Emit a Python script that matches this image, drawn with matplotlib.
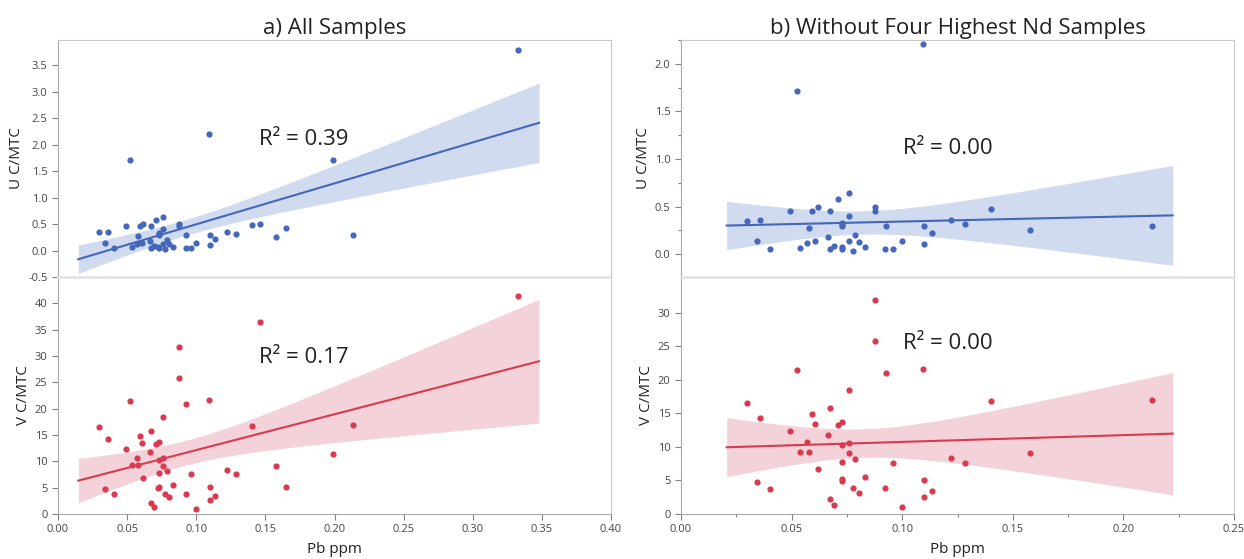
import numpy as np
import matplotlib
matplotlib.use("Agg")
import matplotlib.pyplot as plt
from matplotlib.ticker import MultipleLocator, FormatStrFormatter, FixedLocator

plt.rcParams['font.family'] = ['Open Sans', 'DejaVu Sans']

# muestras sin las cuatro de mayor Nd
pb = [0.0298, 0.0342, 0.0359, 0.0402, 0.0493, 0.0523, 0.0538, 0.0571, 0.0580, 0.0594,
      0.0604, 0.0618, 0.0663, 0.0674, 0.0672, 0.0693, 0.0710, 0.0726, 0.0728, 0.0729,
      0.0730, 0.0730, 0.0758, 0.0758, 0.0761, 0.0776, 0.0788, 0.0803, 0.0830, 0.0876,
      0.0876, 0.0927, 0.0924, 0.0960, 0.0999, 0.1094, 0.1097, 0.1097, 0.1133, 0.1220,
      0.1284, 0.1403, 0.1578, 0.2131]
u_cmtc = [0.346, 0.140, 0.360, 0.052, 0.455, 1.714, 0.066, 0.119, 0.270, 0.458,
          0.140, 0.496, 0.182, 0.458, 0.052, 0.084, 0.577, 0.073, 0.052, 0.294,
          0.330, 0.310, 0.643, 0.406, 0.133, 0.028, 0.203, 0.129, 0.070, 0.496,
          0.458, 0.294, 0.049, 0.056, 0.140, 2.207, 0.294, 0.105, 0.224, 0.357,
          0.315, 0.475, 0.252, 0.294]
v_cmtc = [16.47, 4.81, 14.24, 3.77, 12.30, 21.43, 9.23, 10.71, 9.28, 14.88,
          13.44, 6.75, 11.80, 15.72, 2.18, 1.29, 13.24, 4.86, 5.16, 10.27,
          13.69, 7.69, 18.45, 10.61, 9.08, 3.82, 8.23, 3.17, 5.50, 31.80,
          25.80, 20.98, 3.87, 7.54, 1.04, 21.63, 5.10, 2.58, 3.47, 8.28,
          7.54, 16.77, 9.08, 16.92]

# las cuatro muestras con Nd mas alto
pb_nd = [0.146, 0.165, 0.199, 0.3328]
u_nd = [0.50, 0.42, 1.717, 3.80]
v_nd = [36.46, 5.07, 11.35, 41.4]

pb_todas = pb + pb_nd
u_todas = u_cmtc + u_nd
v_todas = v_cmtc + v_nd

AZUL = "#4466bb"
AZUL_BANDA = "#d0dbef"
ROJO = "#d93a50"
ROJO_BANDA = "#f3d3d9"
GRIS_TXT = "#454545"


def ajuste(ax, x, y, color, banda):
    x = np.array(x)
    y = np.array(y)
    n = len(x)
    b1, b0 = np.polyfit(x, y, 1)
    rango = x.max() - x.min()
    xs = np.linspace(x.min() - 0.05 * rango, x.max() + 0.05 * rango, 200)
    yhat = b0 + b1 * xs
    resid = y - (b0 + b1 * x)
    s = np.sqrt(np.sum(resid ** 2) / (n - 2))
    sxx = np.sum((x - x.mean()) ** 2)
    t = 2.015  # t 0.975 con ~45 gl
    se = s * np.sqrt(1.0 / n + (xs - x.mean()) ** 2 / sxx)
    ax.fill_between(xs, yhat - t * se, yhat + t * se, color=banda, lw=0, zorder=1)
    ax.plot(xs, yhat, color=color, lw=1.5, zorder=2)
    ax.scatter(x, y, s=20, color=color, lw=0, zorder=3)


def estilo(ax, arriba):
    ax.tick_params(axis='both', labelsize=8, colors='#808080', labelcolor=GRIS_TXT,
                   length=4, width=0.8, direction='out')
    ax.tick_params(which='minor', length=2.5, width=0.8, colors='#808080')
    ax.spines['right'].set_color('#c8c8c8')
    ax.spines['left'].set_color('#a8a8a8')
    if arriba:
        ax.spines['top'].set_color('#c8c8c8')
        ax.spines['bottom'].set_color('#e3e3e3')
        ax.spines['bottom'].set_linewidth(2)
        ax.tick_params(axis='x', which='both', bottom=False, labelbottom=False)
        ax.set_zorder(3)
    else:
        ax.spines['top'].set_visible(False)
        ax.spines['bottom'].set_color('#a8a8a8')


fig = plt.figure(figsize=(12.44, 5.59), dpi=100)
izq = 58 / 1244
der = 681 / 1244
ancho = 553 / 1244
alto = 237 / 559
abajo = 1 - 514 / 559
medio = 1 - 277 / 559

ax1 = fig.add_axes([izq, medio, ancho, alto])
ax2 = fig.add_axes([izq, abajo, ancho, alto])
ax3 = fig.add_axes([der, medio, ancho, alto])
ax4 = fig.add_axes([der, abajo, ancho, alto])

# a) todas
ajuste(ax1, pb_todas, u_todas, AZUL, AZUL_BANDA)
ajuste(ax2, pb_todas, v_todas, ROJO, ROJO_BANDA)
# b) sin las cuatro de Nd alto
ajuste(ax3, pb, u_cmtc, AZUL, AZUL_BANDA)
ajuste(ax4, pb, v_cmtc, ROJO, ROJO_BANDA)

for ax in (ax1, ax2):
    ax.set_xlim(0, 0.40)
    ax.xaxis.set_major_locator(MultipleLocator(0.05))
for ax in (ax3, ax4):
    ax.set_xlim(0, 0.25)
    ax.xaxis.set_major_locator(MultipleLocator(0.05))
    ax.xaxis.set_minor_locator(MultipleLocator(0.025))

ax1.set_ylim(-0.5, 3.98)
ax1.yaxis.set_major_locator(FixedLocator([-0.5, 0, 0.5, 1, 1.5, 2, 2.5, 3, 3.5]))
ax1.yaxis.set_major_formatter(FormatStrFormatter('%.1f'))
ax2.set_ylim(0, 45)
ax2.yaxis.set_major_locator(FixedLocator([0, 5, 10, 15, 20, 25, 30, 35, 40]))
ax3.set_ylim(-0.24, 2.25)
ax3.yaxis.set_major_locator(MultipleLocator(0.5))
ax3.yaxis.set_minor_locator(MultipleLocator(0.25))
ax3.yaxis.set_major_formatter(FormatStrFormatter('%.1f'))
ax4.set_ylim(0, 35.3)
ax4.yaxis.set_major_locator(FixedLocator([0, 5, 10, 15, 20, 25, 30]))

for ax in (ax2, ax4):
    ax.xaxis.set_major_formatter(FormatStrFormatter('%.2f'))

estilo(ax1, True)
estilo(ax3, True)
estilo(ax2, False)
estilo(ax4, False)

for ax, lab in ((ax1, "U C/MTC"), (ax2, "V C/MTC"), (ax3, "U C/MTC"), (ax4, "V C/MTC")):
    ax.set_ylabel(lab, fontsize=11, color='#222222', labelpad=3)
for ax in (ax2, ax4):
    ax.set_xlabel("Pb ppm", fontsize=11, color='#222222', labelpad=5)

ax1.text(0.178, 2.09, "R² = 0.39", fontsize=16, ha='center', va='center', color='#222222')
ax2.text(0.178, 29.7, "R² = 0.17", fontsize=16, ha='center', va='center', color='#222222')
ax3.text(0.1207, 1.105, "R² = 0.00", fontsize=16, ha='center', va='center', color='#222222')
ax4.text(0.1207, 25.4, "R² = 0.00", fontsize=16, ha='center', va='center', color='#222222')

ax1.set_title("a) All Samples", fontsize=16, color='#222222', pad=4)
ax3.set_title("b) Without Four Highest Nd Samples", fontsize=16, color='#222222', pad=4)

plt.savefig("out.png", dpi=100)
